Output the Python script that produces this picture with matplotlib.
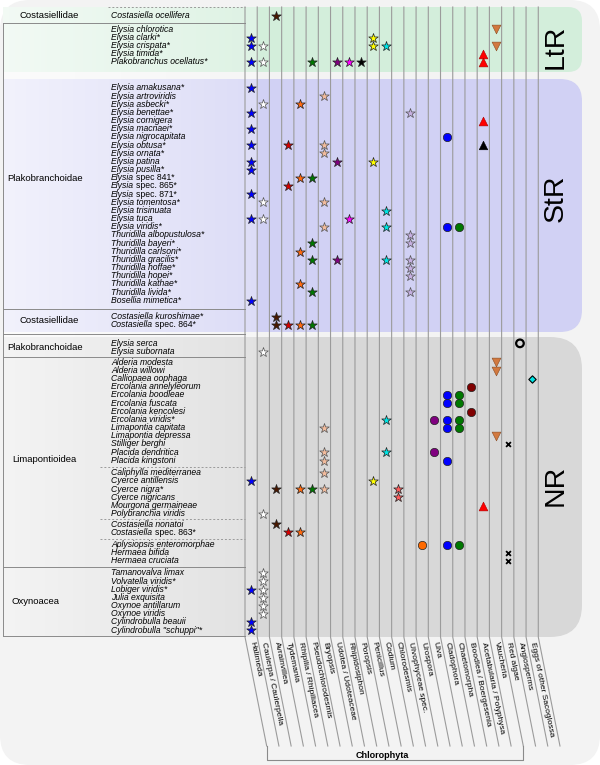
import numpy as np
import matplotlib.pyplot as plt
from matplotlib.patches import FancyBboxPatch, Rectangle

plt.rcParams['font.family'] = ['Liberation Sans', 'DejaVu Sans']

# ---- data ---------------------------------------------------------------
food = ["Halimeda", "Caulerpa / Caulerpella", "Avrainvillea", "Tydemania",
        "Rhipilia / Rhipiliacea", "Pseudochlorodesmis", "Bryopsis",
        "Udotea / Udoteaceae", "Rhipidosiphon", "Poropsis", "Penicillus",
        "Codium", "Chlorodesmis", "Ulvophyceae spec.", "Urospora", "Ulva",
        "Cladophora", "Chaetomorpha", "Boodlea / Boergesenia",
        "Acetabularia / Polyphysa", "Vaucheria", "Red algae", "Angiosperms",
        "Eggs of other Sacoglossa"]

species = [
    "Costasiella ocellifera",
    "Elysia chlorotica", "Elysia clarki*", "Elysia crispata*", "Elysia timida*",
    "Plakobranchus ocellatus*",
    "Elysia amakusana*", "Elysia artroviridis", "Elysia asbecki*", "Elysia benettae*",
    "Elysia cornigera", "Elysia macnaei*", "Elysia nigrocapitata", "Elysia obtusa*",
    "Elysia ornata*", "Elysia patina", "Elysia pusilla*", "Elysia spec 841*",
    "Elysia spec. 865*", "Elysia spec. 871*", "Elysia tomentosa*", "Elysia trisinuata",
    "Elysia tuca", "Elysia viridis*", "Thuridilla albopustulosa*", "Thuridilla bayeri*",
    "Thuridilla carlsoni*", "Thuridilla gracilis*", "Thuridilla hoffae*",
    "Thuridilla hopei*", "Thuridilla kathae*", "Thuridilla livida*",
    "Bosellia mimetica*",
    "Costasiella kuroshimae*", "Costasiella spec. 864*",
    "Elysia serca", "Elysia subornata",
    "Alderia modesta", "Alderia willowi", "Calliopaea oophaga",
    "Ercolania annelyleorum", "Ercolania boodleae", "Ercolania fuscata",
    "Ercolania kencolesi", "Ercolania viridis*", "Limapontia capitata",
    "Limapontia depressa", "Stilliger berghi", "Placida dendritica",
    "Placida kingstoni",
    "Caliphylla mediterranea", "Cyerce antillensis", "Cyerce nigra*",
    "Cyerce nigricans", "Mourgona germaineae", "Polybranchia viridis",
    "Costasiella nonatoi", "Costasiella spec. 863*",
    "Aplysiopsis enteromorphae", "Hermaea bifida", "Hermaea cruciata",
    "Tamanovalva limax", "Volvatella viridis*", "Lobiger viridis*",
    "Julia exquisita", "Oxynoe antillarum", "Oxynoe viridis",
    "Cylindrobulla beauii", 'Cylindrobulla "schuppi"*',
]

# food column indices recorded for each species (same order as species)
diet = [
    [2],
    [20], [0, 10], [0, 1, 10, 11, 20], [19],
    [0, 1, 5, 7, 8, 9, 19],
    [0], [6], [1, 4], [0, 13],
    [19], [0], [16], [0, 3, 6, 19],
    [6], [0, 7, 10], [0], [4, 5],
    [3], [0], [1, 6], [11],
    [0, 1, 8], [6, 11, 16, 17], [13], [5, 13],
    [4], [5, 7, 11, 13], [13],
    [13], [4], [5, 13],
    [0],
    [2], [2, 3, 4, 5],
    [22], [1],
    [20], [20], [23],
    [18], [16, 17], [16, 17],
    [18], [11, 15, 16, 17], [6, 16, 17],
    [20], [21], [6, 11, 15],
    [6, 16],
    [6], [0, 10], [2, 4, 5, 6, 12],
    [12], [19], [1],
    [2], [3, 4],
    [14, 16, 17], [21], [21],
    [1], [1], [0, 1],
    [1], [1], [1],
    [0], [0],
]
black_triangle = ["Elysia obtusa*"]

subgroup_sizes = [1, 5, 27, 2, 2, 13, 6, 2, 3, 8]
families = ["Costasiellidae", "Plakobranchoidae", "Costasiellidae",
            "Plakobranchoidae", "Limapontioidea", "Oxynoacea"]
retention = ["LtR", "StR", "NR"]
group_label = "Chlorophyta"
chlorophyta_cols = (0, 20)

# ---- layout -------------------------------------------------------------
X0, CW = 245, 12.22
TOP, BOT, LBL_BOT = 7, 637, 746
SLANT = 21.7
pitch = 8.17
extra_gap = [0, 5.6, 17.8, 7.8, 10.5, 2.8, 4.2, 2.4, 4.0, 4.0]
sep_style = ['full', None, 'full', 'full', 'full', 'dash', 'dash', 'dash', 'full']
family_x = [20, 7, 20, 7, 12, 12]
family_y = [15.7, 178, 320.6, 347.4, 459, 601.7]
band_edges = [(7, 72), (79, 332), (337, 637)]
band_colors = ['#d3eedb', '#d1d1f4', '#d8d8d8']
band_round = [14, 22, 32]
band_text_y = [47, 198, 485]

star_colors = ['#0000ff', '#ffffff', '#4a1800', '#d40000', '#ff6a10', '#007800',
               '#f2bb9c', '#800080', '#ff00ff', '#000000', '#ffff00', '#00e5e5',
               '#ff5c5c', '#c6b0e2']
circle_colors = {14: '#ff6a00', 15: '#800080', 16: '#0000ff', 17: '#007800',
                 18: '#800000'}

row_y = []
y = 15.7 - pitch
for size, g in zip(subgroup_sizes, extra_gap):
    y += g
    for _ in range(size):
        y += pitch
        row_y.append(y)

fig = plt.figure(figsize=(6, 7.65), dpi=100)
ax = fig.add_axes([0, 0, 1, 1])
ax.set_xlim(0, 600)
ax.set_ylim(765, 0)
ax.axis('off')

# background panel
ax.add_patch(FancyBboxPatch((0, 0), 600, 765, boxstyle='round,pad=0,rounding_size=30',
                            fc='#f3f3f3', ec='none', zorder=0))

# retention bands
clip = Rectangle((3, 0), 600, 765, transform=ax.transData)
for (y0, y1), c, r, lab, ty in zip(band_edges, band_colors, band_round, retention, band_text_y):
    p = FancyBboxPatch((-60, y0), 642, y1 - y0,
                       boxstyle=f'round,pad=0,rounding_size={r}',
                       fc=c, ec='none', zorder=1)
    ax.add_patch(p)
    p.set_clip_path(clip)
    ax.text(556, ty, lab, rotation=90, ha='center', va='center', fontsize=20.5, zorder=4)

# light fade over the table part
grad = np.ones((2, 256, 4))
grad[..., 3] = np.linspace(0.72, 0.25, 256)
ax.imshow(grad, extent=(3, X0 + CW, BOT, TOP), aspect='auto', zorder=2,
          interpolation='bilinear')

# column lines, bending into the slanted label strips
for k in range(len(food) + 1):
    x = X0 + k * CW
    ax.plot([x, x, x + SLANT], [TOP, BOT, LBL_BOT], color='#9b9b9b', lw=0.8, zorder=3)

for i, name in enumerate(food):
    xc = X0 + (i + 0.5) * CW
    ax.text(xc + 0.5, 642, name, rotation=-78.6, rotation_mode='anchor',
            ha='left', va='center', fontsize=6, zorder=4)

# Chlorophyta bracket
xl = X0 + chlorophyta_cols[0] * CW + SLANT
xr = X0 + (chlorophyta_cols[1] + 1) * CW + SLANT
ax.plot([xl, xl, xr, xr], [LBL_BOT, 760, 760, LBL_BOT], color='#8a8a8a', lw=0.8, zorder=3)
ax.text(382, 755, group_label, ha='center', va='center', fontsize=6.5,
        fontweight='bold', zorder=4)

# table lines
bounds = np.cumsum(subgroup_sizes)
ax.plot([108, X0], [TOP, TOP], color='#9a9a9a', lw=0.7, ls=(0, (2, 2)), zorder=3)
for k, st in enumerate(sep_style):
    yb = (row_y[bounds[k] - 1] + row_y[bounds[k]]) / 2
    if st == 'full':
        ax.plot([3, X0], [yb, yb], color='#8a8a8a', lw=0.7, zorder=3)
    elif st == 'dash':
        ax.plot([100, X0], [yb, yb], color='#9a9a9a', lw=0.7, ls=(0, (2, 2)), zorder=3)
first_sep = (row_y[0] + row_y[1]) / 2
ax.plot([3, X0], [BOT - 1, BOT - 1], color='#8a8a8a', lw=0.7, zorder=3)
ax.plot([3, 3], [first_sep, BOT - 1], color='#8a8a8a', lw=0.7, zorder=3)

for name, fx, fy in zip(families, family_x, family_y):
    ax.text(fx, fy, name, ha='left', va='center', fontsize=6.8, zorder=4)

# species names: genus italic, "spec." part upright
renderer = fig.canvas.get_renderer()
inv = ax.transData.inverted()
for name, ry in zip(species, row_y):
    base = ry + 2.3
    if ' spec' in name:
        genus, rest = name.split(' ', 1)
        t = ax.text(111, base, genus, ha='left', va='baseline', fontsize=6.2,
                    style='italic', zorder=4)
        x1 = inv.transform(t.get_window_extent(renderer).get_points())[1, 0]
        ax.text(x1 + 2.2, base, rest, ha='left', va='baseline', fontsize=6.2, zorder=4)
    else:
        ax.text(111, base, name, ha='left', va='baseline', fontsize=6.2,
                style='italic', zorder=4)

# markers
pts = {}
for name, ry, cols in zip(species, row_y, diet):
    for c in cols:
        key = 'black19' if (c == 19 and name in black_triangle) else c
        pts.setdefault(key, []).append((X0 + (c + 0.5) * CW, ry))

for key, xy in pts.items():
    xs, ys = zip(*xy)
    if key == 'black19':
        ax.scatter(xs, ys, marker='^', s=38, c='black', edgecolors='black', lw=0.4, zorder=5)
    elif key < 14:
        ec = '#555555' if key in (1, 6, 13) else '#222222'
        ax.scatter(xs, ys, marker='*', s=52, c=star_colors[key], edgecolors=ec,
                   lw=0.5, zorder=5)
    elif key in circle_colors:
        ax.scatter(xs, ys, marker='o', s=36, c=circle_colors[key], edgecolors='#222222',
                   lw=0.5, zorder=5)
    elif key == 19:
        ax.scatter(xs, ys, marker='^', s=40, c='#ff0000', edgecolors='#aa0000',
                   lw=0.4, zorder=5)
    elif key == 20:
        ax.scatter(xs, ys, marker='v', s=40, c='#d2793f', edgecolors='#8a4a20',
                   lw=0.4, zorder=5)
    elif key == 21:
        ax.scatter(xs, ys, marker='x', s=12, c='black', lw=1.3, zorder=5)
    elif key == 22:
        ax.scatter(xs, ys, marker='o', s=30, facecolors='none', edgecolors='black',
                   lw=1.6, zorder=5)
    elif key == 23:
        ax.scatter(xs, ys, marker='D', s=14, c='#00e5e5', edgecolors='black',
                   lw=0.8, zorder=5)

ax.set_xlim(0, 600)
ax.set_ylim(765, 0)
fig.savefig('out.png', dpi=100, facecolor='white')
